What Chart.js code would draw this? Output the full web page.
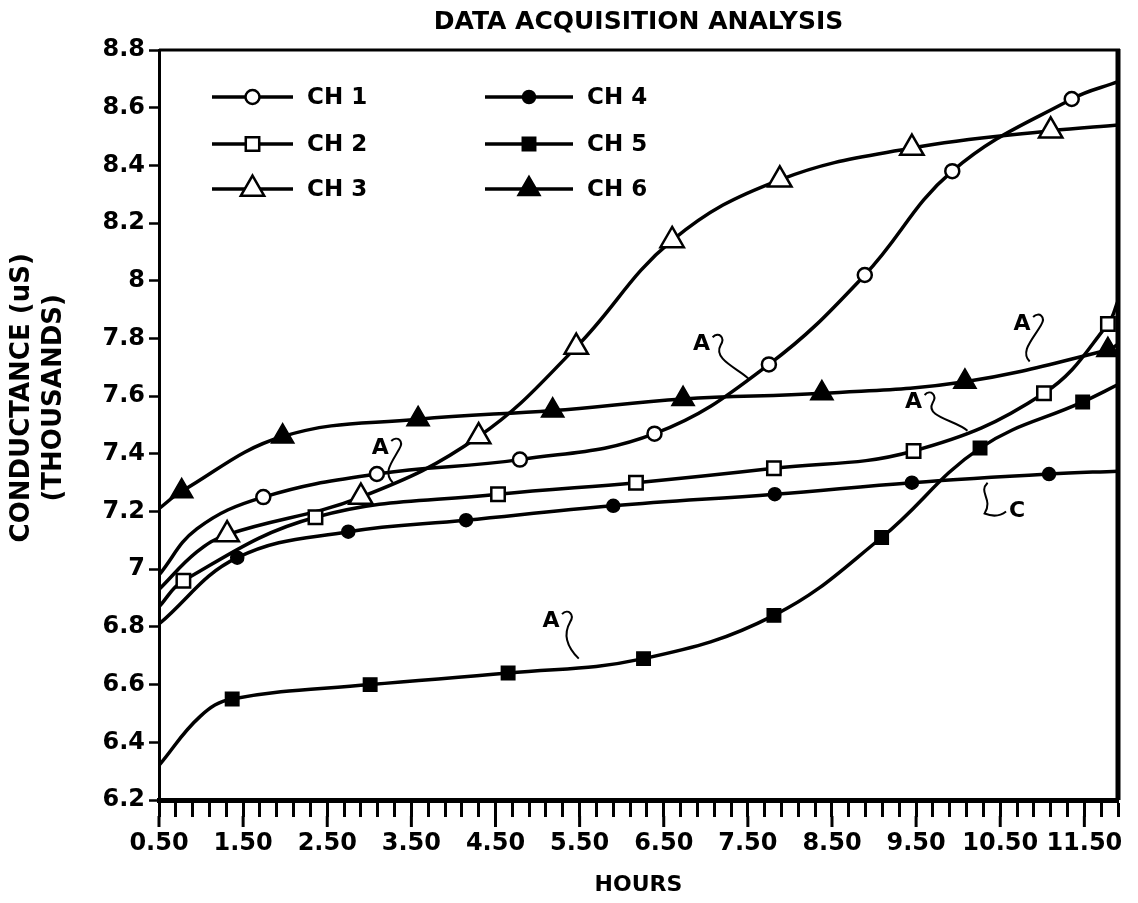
<!DOCTYPE html>
<html>
<head>
<meta charset="utf-8">
<title>Data Acquisition Analysis</title>
<script src="https://cdn.jsdelivr.net/npm/chart.js@4.4.0/dist/chart.umd.min.js"></script>
<style>
  html, body { margin: 0; padding: 0; background: #fff; }
  #wrap { width: 1138px; height: 903px; position: relative; }
</style>
</head>
<body>
<div id="wrap"><canvas id="chart"></canvas></div>
<script>
// values: hours vs conductance (thousands of uS)
// first / last point of a curve is where it meets the frame (no symbol there)
const ch1Hours  = [0.5, 0.95, 1.74, 3.09, 4.79, 6.39, 7.75, 8.89, 9.93, 11.35, 11.9];
const ch1Values = [6.98, 7.14, 7.25, 7.33, 7.38, 7.47, 7.71, 8.02, 8.38, 8.63, 8.69];
const ch1Marked = [0, 0, 1, 1, 1, 1, 1, 1, 1, 1, 0];

const ch2Hours  = [0.5, 0.79, 2.36, 4.53, 6.17, 7.81, 9.47, 11.02, 11.78, 11.9];
const ch2Values = [6.87, 6.96, 7.18, 7.26, 7.30, 7.35, 7.41, 7.61, 7.85, 7.93];
const ch2Marked = [0, 1, 1, 1, 1, 1, 1, 1, 1, 0];

const ch3Hours  = [0.5, 0.95, 1.31, 2.90, 4.30, 5.46, 6.60, 7.88, 9.45, 11.10, 11.9];
const ch3Values = [6.93, 7.06, 7.12, 7.25, 7.46, 7.77, 8.14, 8.35, 8.46, 8.52, 8.54];
const ch3Marked = [0, 0, 1, 1, 1, 1, 1, 1, 1, 1, 0];

const ch4Hours  = [0.5, 1.43, 2.75, 4.15, 5.90, 7.82, 9.45, 11.08, 11.9];
const ch4Values = [6.81, 7.04, 7.13, 7.17, 7.22, 7.26, 7.30, 7.33, 7.34];
const ch4Marked = [0, 1, 1, 1, 1, 1, 1, 1, 0];

const ch5Hours  = [0.5, 0.99, 1.37, 3.01, 4.65, 6.26, 7.81, 9.09, 10.26, 11.48, 11.9];
const ch5Values = [6.32, 6.49, 6.55, 6.60, 6.64, 6.69, 6.84, 7.11, 7.42, 7.58, 7.64];
const ch5Marked = [0, 0, 1, 1, 1, 1, 1, 1, 1, 1, 0];

const ch6Hours  = [0.5, 0.77, 1.97, 3.58, 5.18, 6.73, 8.38, 10.08, 11.78, 11.9];
const ch6Values = [7.21, 7.27, 7.46, 7.52, 7.55, 7.59, 7.61, 7.65, 7.76, 7.78];
const ch6Marked = [0, 1, 1, 1, 1, 1, 1, 1, 1, 0];

const hourTickLabels = ['0.50', '1.50', '2.50', '3.50', '4.50', '5.50', '6.50', '7.50', '8.50', '9.50', '10.50', '11.50'];
const valueTickLabels = ['6.2', '6.4', '6.6', '6.8', '7', '7.2', '7.4', '7.6', '7.8', '8', '8.2', '8.4', '8.6', '8.8'];

// the "A" / "C" callouts on the original figure, in data units
const noteText     = ['A', 'A', 'A', 'A', 'A', 'C'];
const noteHours    = [3.13, 5.16, 6.95, 10.76, 9.47, 10.70];
const noteValues   = [7.42, 6.82, 7.78, 7.85, 7.58, 7.20];
const noteToHours  = [3.28, 5.49, 7.51, 10.85, 10.11, 10.35];
const noteToValues = [7.30, 6.69, 7.66, 7.72, 7.48, 7.30];

const xMin = 0.5, xMax = 11.9, yMin = 6.2, yMax = 8.8;

Chart.defaults.font.family = "'DejaVu Sans', sans-serif";
Chart.defaults.font.weight = 'bold';
Chart.defaults.color = '#000';

function series(label, hours, values, marked, style, radius, filled) {
    return {
        label,
        data: hours.map((h, i) => ({ x: h, y: values[i], m: marked[i] })),
        borderColor: '#000',
        borderWidth: 3.5,
        pointStyle: style,
        markerRadius: radius,
        pointRadius: c => (c.raw && c.raw.m ? radius : 0),
        pointHoverRadius: c => (c.raw && c.raw.m ? radius : 0),
        pointBackgroundColor: filled ? '#000' : '#fff',
        pointBorderColor: '#000',
        pointBorderWidth: filled ? 1.5 : 2.5,
        tension: 0.4,
        fill: false
    };
}

function marker(ctx, style, r, x, y) {
    if (Chart.helpers && Chart.helpers.drawPoint) {
        Chart.helpers.drawPoint(ctx, { pointStyle: style, radius: r, rotation: 0, borderWidth: ctx.lineWidth }, x, y);
        return;
    }
    ctx.beginPath();
    if (style === 'circle') ctx.arc(x, y, r, 0, Math.PI * 2);
    else if (style === 'rect') { const s = r * Math.SQRT1_2; ctx.rect(x - s, y - s, 2 * s, 2 * s); }
    else {
        ctx.moveTo(x, y - r);
        ctx.lineTo(x + r * Math.sin(2 * Math.PI / 3), y - r * Math.cos(2 * Math.PI / 3));
        ctx.lineTo(x + r * Math.sin(4 * Math.PI / 3), y - r * Math.cos(4 * Math.PI / 3));
        ctx.closePath();
    }
    ctx.fill();
    ctx.stroke();
}

const decor = {
    id: 'decor',
    afterDraw(chart) {
        const ctx = chart.ctx, a = chart.chartArea;
        const xs = chart.scales.x, ys = chart.scales.y;
        ctx.save();
        ctx.strokeStyle = '#000';
        ctx.lineCap = 'butt';

        // top and right sides of the frame
        ctx.lineWidth = 3;
        ctx.beginPath(); ctx.moveTo(a.left, a.top); ctx.lineTo(a.right + 2, a.top); ctx.stroke();
        ctx.lineWidth = 5;
        ctx.beginPath(); ctx.moveTo(a.right, a.top - 1); ctx.lineTo(a.right, a.bottom); ctx.stroke();

        // longer ticks at the labelled hours
        ctx.lineWidth = 3;
        hourTickLabels.forEach(t => {
            const px = xs.getPixelForValue(parseFloat(t));
            ctx.beginPath(); ctx.moveTo(px, a.bottom + 16); ctx.lineTo(px, a.bottom + 27); ctx.stroke();
        });

        // legend: two columns of three
        const rows = [47, 94, 139];
        chart.data.datasets.forEach((ds, i) => {
            const col = Math.floor(i / 3), row = i % 3;
            const x0 = a.left + (col ? 326 : 53), len = col ? 88 : 81;
            const y = a.top + rows[row];
            ctx.lineWidth = 3.5;
            ctx.strokeStyle = '#000';
            ctx.beginPath(); ctx.moveTo(x0, y); ctx.lineTo(x0 + len, y); ctx.stroke();
            ctx.fillStyle = ds.pointBackgroundColor;
            ctx.lineWidth = ds.pointBorderWidth;
            marker(ctx, ds.pointStyle, ds.markerRadius, x0 + len / 2, y);
            ctx.fillStyle = '#000';
            ctx.font = "bold 23px 'DejaVu Sans'";
            ctx.textBaseline = 'middle';
            ctx.textAlign = 'left';
            ctx.fillText(ds.label, x0 + len + 14, y + 1);
        });

        // callouts
        ctx.font = "bold 22px 'DejaVu Sans'";
        ctx.textAlign = 'center';
        ctx.textBaseline = 'middle';
        ctx.lineWidth = 2;
        noteText.forEach((t, i) => {
            const lx = xs.getPixelForValue(noteHours[i]), ly = ys.getPixelForValue(noteValues[i]);
            const ex = xs.getPixelForValue(noteToHours[i]), ey = ys.getPixelForValue(noteToValues[i]);
            ctx.fillText(t, lx, ly);
            ctx.beginPath();
            if (t === 'C') {
                ctx.moveTo(ex, ey);
                ctx.bezierCurveTo(ex - 10, ey + 10, ex + 6, ey + 16, ex - 3, ly + 2);
                ctx.quadraticCurveTo(lx - 20, ly + 7, lx - 11, ly);
            } else {
                const sx = lx + 11, sy = ly - 7;
                ctx.moveTo(sx, sy);
                ctx.bezierCurveTo(sx + 6, sy - 6, sx + 13, sy, sx + 8, sy + 8);
                const px = sx + 8, py = sy + 8;
                ctx.bezierCurveTo(px - 8, py + 14, ex - 10, ey - 10, ex, ey);
            }
            ctx.stroke();
        });
        ctx.restore();
    }
};

const xTickValues = [];
for (let i = 0; 0.5 + i * 0.2 <= xMax + 1e-9; i++) xTickValues.push(Math.round((0.5 + i * 0.2) * 10) / 10);

new Chart(document.getElementById('chart'), {
    type: 'line',
    data: {
        datasets: [
            series('CH 1', ch1Hours, ch1Values, ch1Marked, 'circle', 7, false),
            series('CH 2', ch2Hours, ch2Values, ch2Marked, 'rect', 9.5, false),
            series('CH 3', ch3Hours, ch3Values, ch3Marked, 'triangle', 13.5, false),
            series('CH 4', ch4Hours, ch4Values, ch4Marked, 'circle', 6.5, true),
            series('CH 5', ch5Hours, ch5Values, ch5Marked, 'rect', 9.5, true),
            series('CH 6', ch6Hours, ch6Values, ch6Marked, 'triangle', 13, true)
        ]
    },
    options: {
        responsive: true,
        maintainAspectRatio: false,
        animation: false,
        layout: { padding: { left: 0, right: 20, top: 0, bottom: 0 } },
        plugins: {
            legend: { display: false },
            tooltip: { enabled: false },
            title: {
                display: true,
                text: 'DATA ACQUISITION ANALYSIS',
                fullSize: false,
                font: { size: 25, weight: 'bold' },
                color: '#000',
                padding: { top: 7, bottom: 13 }
            }
        },
        scales: {
            x: {
                type: 'linear',
                min: xMin,
                max: xMax,
                afterBuildTicks: s => { s.ticks = xTickValues.map(v => ({ value: v })); },
                afterFit: s => { s.height = 103; },
                ticks: {
                    autoSkip: false,
                    maxRotation: 0,
                    minRotation: 0,
                    padding: 12,
                    font: { size: 24, weight: 'bold' },
                    color: '#000',
                    callback: v => {
                        const k = Math.round(v - 0.5);
                        return Math.abs(v - 0.5 - k) < 1e-6 && hourTickLabels[k] ? hourTickLabels[k] : '';
                    }
                },
                grid: { drawOnChartArea: false, drawTicks: true, tickLength: 17, tickWidth: 3, tickColor: '#000' },
                border: { display: true, color: '#000', width: 5 },
                title: {
                    display: true,
                    text: 'HOURS',
                    font: { size: 22, weight: 'bold' },
                    color: '#000',
                    padding: { top: 0, bottom: 5 }
                }
            },
            y: {
                min: yMin,
                max: yMax,
                afterBuildTicks: s => { s.ticks = valueTickLabels.map(t => ({ value: parseFloat(t) })); },
                afterFit: s => { s.width = 159; },
                ticks: {
                    padding: 4,
                    font: { size: 24, weight: 'bold' },
                    color: '#000',
                    callback: v => valueTickLabels.find(t => Math.abs(parseFloat(t) - v) < 1e-6) || ''
                },
                grid: { drawOnChartArea: false, drawTicks: true, tickLength: 10, tickWidth: 2.5, tickColor: '#000' },
                border: { display: true, color: '#000', width: 3 },
                title: {
                    display: true,
                    // leading spaces nudge the centred title up, as on the original
                    text: ['      CONDUCTANCE (uS)', '      (THOUSANDS)'],
                    font: { size: 26, weight: 'bold' },
                    color: '#000',
                    padding: { top: 7, bottom: 0 }
                }
            }
        }
    },
    plugins: [decor]
});
</script>
</body>
</html>
